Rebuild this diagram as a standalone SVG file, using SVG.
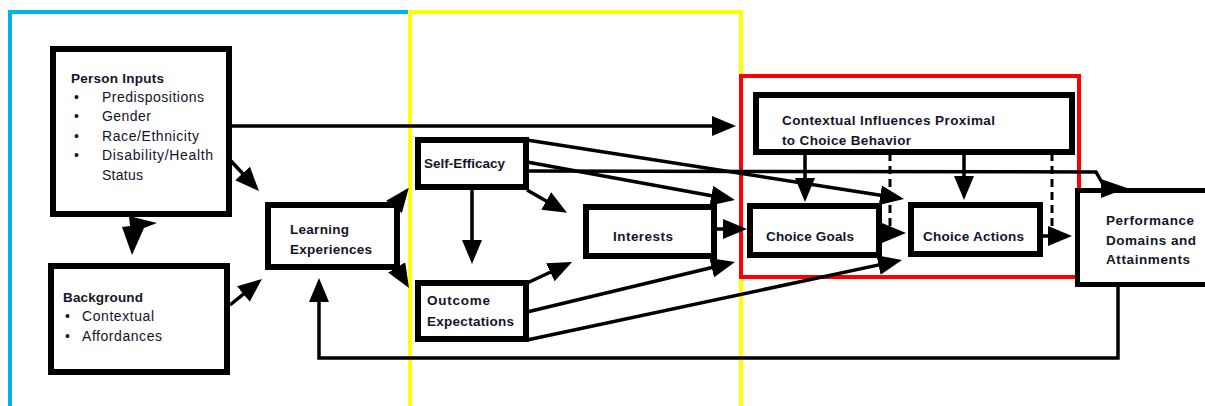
<svg xmlns="http://www.w3.org/2000/svg" width="1205" height="406" viewBox="0 0 1205 406">
<style>
.box{fill:#fff;stroke:#000;stroke-width:6}
.t{font-family:"Liberation Sans",Arial,sans-serif;font-size:14px;fill:#141428}
.b{font-weight:bold;font-size:13.5px}
.c{fill:none;stroke:#000;stroke-width:3.5}
.d{fill:none;stroke:#000;stroke-width:3;stroke-dasharray:8 5}
.frame{fill:none;stroke-width:4}
</style>
<defs>
<marker id="ah" viewBox="0 0 24 20" refX="10" refY="10" markerWidth="24" markerHeight="20" markerUnits="userSpaceOnUse" orient="auto">
<path d="M0,0 L24,10 L0,20 Z" fill="#000"/>
</marker>
</defs>
<rect width="1205" height="406" fill="#fff"/>
<g id="frames">
<path class="frame" stroke="#00b0f0" d="M10,406 L10,12 L410,12"/>
<path class="frame" stroke="#ffff00" d="M410,406 L410,12 L741,12 L741,406"/>
<rect class="frame" stroke="#ff0000" stroke-width="3.5" x="741" y="76" width="338" height="201"/>
</g>
<g id="person-inputs">
<rect class="box" x="53" y="49" width="176" height="165"/>
<text class="t b" x="71" y="83" textLength="93">Person Inputs</text>
<text class="t" x="74" y="102">•</text><text class="t" x="102" y="102" textLength="102">Predispositions</text>
<text class="t" x="74" y="121">•</text><text class="t" x="102" y="121" textLength="49">Gender</text>
<text class="t" x="74" y="141">•</text><text class="t" x="102" y="141" textLength="97">Race/Ethnicity</text>
<text class="t" x="74" y="160">•</text><text class="t" x="102" y="160" textLength="111">Disability/Health</text>
<text class="t" x="102" y="180" textLength="41">Status</text>
</g>
<g id="background">
<rect class="box" x="51" y="266" width="176" height="106"/>
<text class="t b" x="63" y="302" textLength="80">Background</text>
<text class="t" x="65" y="321">•</text><text class="t" x="82" y="321" textLength="72">Contextual</text>
<text class="t" x="65" y="341">•</text><text class="t" x="82" y="341" textLength="80">Affordances</text>
</g>
<g id="learning-experiences">
<rect class="box" x="268" y="205" width="129" height="62"/>
<text class="t b" x="290" y="234" textLength="59">Learning</text>
<text class="t b" x="290" y="254" textLength="82">Experiences</text>
</g>
<g id="self-efficacy">
<rect class="box" x="418" y="140" width="108" height="47"/>
<text class="t b" x="424" y="168" textLength="81">Self-Efficacy</text>
</g>
<g id="outcome-expectations">
<rect class="box" x="418" y="283" width="108" height="56"/>
<text class="t b" x="427" y="305" textLength="63">Outcome</text>
<text class="t b" x="427" y="326" textLength="87">Expectations</text>
</g>
<g id="interests">
<rect class="box" x="586" y="207" width="128" height="49"/>
<text class="t b" x="613" y="241" textLength="60">Interests</text>
</g>
<g id="contextual-influences">
<rect class="box" x="756" y="95" width="316" height="57"/>
<text class="t b" x="782" y="125" textLength="213">Contextual Influences Proximal</text>
<text class="t b" x="782" y="145" textLength="129">to Choice Behavior</text>
</g>
<g id="choice-goals">
<rect class="box" x="750" y="206" width="129" height="49"/>
<text class="t b" x="766" y="241" textLength="88">Choice Goals</text>
</g>
<g id="choice-actions">
<rect class="box" x="911" y="205" width="129" height="49"/>
<text class="t b" x="923" y="241" textLength="101">Choice Actions</text>
</g>
<g id="performance">
<rect x="1077" y="190" width="150" height="95" fill="#fff"/>
<path d="M1230,190.5 L1077.5,190.5 L1077.5,284.5 L1230,284.5" fill="none" stroke="#000" stroke-width="5"/>
<text class="t b" x="1106" y="225" textLength="88">Performance</text>
<text class="t b" x="1106" y="245" textLength="90">Domains and</text>
<text class="t b" x="1106" y="264" textLength="84">Attainments</text>
</g>
<g id="connectors">
<line class="c" x1="231" y1="161" x2="249.4" y2="180.8" marker-end="url(#ah)"/>
<line class="c" x1="230" y1="305" x2="251.1" y2="287.8" marker-end="url(#ah)"/>
<line class="c" x1="397" y1="203" x2="400.2" y2="198.9" marker-end="url(#ah)"/>
<line class="c" x1="397" y1="268" x2="401.8" y2="276" marker-end="url(#ah)"/>
<line class="c" x1="229" y1="126" x2="722" y2="126" marker-end="url(#ah)"/>
<line class="c" x1="472" y1="188" x2="472" y2="250" marker-end="url(#ah)"/>
<line class="c" x1="527" y1="190" x2="554.9" y2="205.9" marker-end="url(#ah)"/>
<line class="c" x1="527" y1="283" x2="559.4" y2="268" marker-end="url(#ah)"/>
<line class="c" x1="527" y1="162" x2="721.2" y2="197.5" marker-end="url(#ah)"/>
<line class="c" x1="527" y1="140" x2="890.2" y2="196.8" marker-end="url(#ah)"/>
<path class="c" d="M527,171 L1096,172 L1104,186"/>
<polygon points="1101,179 1127,188 1101,198" fill="#000"/>
<line class="c" x1="714" y1="229" x2="733" y2="229" marker-end="url(#ah)"/>
<line class="c" x1="527" y1="312" x2="721.4" y2="265.3" marker-end="url(#ah)"/>
<line class="c" x1="527" y1="340" x2="888.3" y2="262.9" marker-end="url(#ah)"/>
<line class="c" x1="805" y1="153" x2="805" y2="188" marker-end="url(#ah)"/>
<line class="c" x1="964" y1="153" x2="964" y2="186" marker-end="url(#ah)"/>
<line class="c" x1="879" y1="233" x2="892" y2="233" marker-end="url(#ah)"/>
<line class="c" x1="1040" y1="236" x2="1058" y2="236" marker-end="url(#ah)"/>
<line class="d" x1="890" y1="153" x2="890" y2="228"/>
<line class="d" x1="1052" y1="153" x2="1052" y2="228"/>
<path class="c" d="M1118,287 L1118,358 L319,358 L319,292" marker-end="url(#ah)"/>
<polygon points="129,216 157,223 144,228 132,255 122,227 130,226" fill="#000"/>
</g>
</svg>
